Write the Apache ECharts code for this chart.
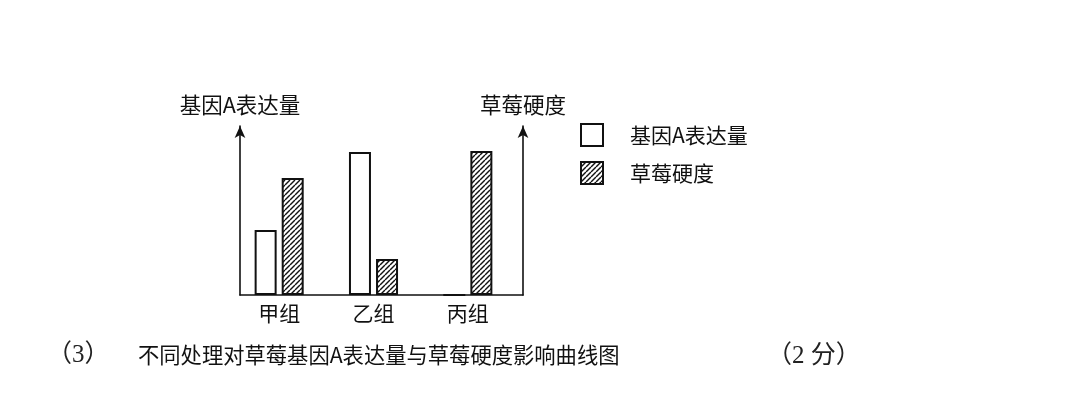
<!DOCTYPE html>
<html>
<head>
<meta charset="utf-8">
<script src="https://cdn.jsdelivr.net/npm/echarts@6/dist/echarts.min.js"></script>
<style>
  html, body { margin: 0; padding: 0; background: #fff; }
  #chart { width: 1080px; height: 414px; }
</style>
</head>
<body>
<div id="chart"></div>
<script>
// data
const groups = ['甲组', '乙组', '丙组'];
const geneA = [65, 143, 0];
const hardness = [117, 36, 144];
const seriesNames = ['基因A表达量', '草莓硬度'];

// diagonal hatch tile for the hardness bars
function makeHatch() {
    const c = document.createElement('canvas');
    c.width = 5;
    c.height = 5;
    const ctx = c.getContext('2d');
    ctx.fillStyle = '#fff';
    ctx.fillRect(0, 0, 5, 5);
    ctx.strokeStyle = '#111';
    ctx.lineWidth = 1.4;
    [-5, 0, 5].forEach(d => {
        ctx.beginPath();
        ctx.moveTo(d, 5);
        ctx.lineTo(d + 5, 0);
        ctx.stroke();
    });
    return c;
}

const FONT = '"Noto Sans CJK SC", "Noto Sans", sans-serif';
const SERIF = '"Liberation Serif", "Noto Sans CJK SC", serif';

const chart = echarts.init(document.getElementById('chart'));
const hiddenAxis = {
    axisLine: { show: false },
    axisTick: { show: false },
    axisLabel: { show: false },
    splitLine: { show: false }
};
const frameY = {
    gridIndex: 0,
    type: 'value',
    min: 0,
    max: 169,
    nameLocation: 'end',
    nameGap: 10,
    nameTextStyle: { color: '#111', fontSize: 21.5, fontFamily: FONT },
    axisLine: {
        show: true,
        lineStyle: { color: '#111', width: 1.6 },
        symbol: ['none', 'arrow'],
        symbolSize: [8, 12]
    },
    axisTick: { show: false },
    axisLabel: { show: false },
    splitLine: { show: false }
};

chart.setOption({
    backgroundColor: '#fff',
    animation: false,
    title: [
        { text: '（3）', left: 42, top: 338, textStyle: { fontFamily: SERIF, fontSize: 25, fontWeight: 'normal', color: '#222' } },
        { text: '不同处理对草莓基因A表达量与草莓硬度影响曲线图', left: 133, top: 339, textStyle: { fontFamily: FONT, fontSize: 21.3, fontWeight: 'normal', color: '#111' } },
        { text: '（2 分）', left: 762, top: 339, textStyle: { fontFamily: SERIF, fontSize: 25, fontWeight: 'normal', color: '#222' } }
    ],
    legend: {
        orient: 'vertical',
        left: 580,
        top: 123,
        padding: 0,
        itemWidth: 22,
        itemHeight: 22,
        itemGap: 14,
        icon: 'rect',
        data: seriesNames,
        textStyle: { fontFamily: FONT, fontSize: 21, color: '#111', padding: [0, 0, 0, 22] }
    },
    grid: [
        { left: 240, top: 126, width: 283, height: 169 },
        { left: 232, top: 126, width: 283, height: 169 }
    ],
    xAxis: [
        {
            gridIndex: 0,
            type: 'category',
            data: groups,
            axisLine: { show: true, lineStyle: { color: '#111', width: 1.6 } },
            axisTick: { show: false },
            axisLabel: { show: false }
        },
        {
            gridIndex: 1,
            type: 'category',
            data: groups,
            axisLine: { show: false },
            axisTick: { show: false },
            axisLabel: { color: '#111', fontSize: 21, fontFamily: FONT, margin: 8 }
        }
    ],
    yAxis: [
        Object.assign({}, frameY, { position: 'left', name: '基因A表达量' }),
        Object.assign({}, frameY, { position: 'right', name: '草莓硬度' }),
        Object.assign({ gridIndex: 1, type: 'value', min: 0, max: 169 }, hiddenAxis)
    ],
    series: [
        {
            name: seriesNames[0],
            type: 'bar',
            xAxisIndex: 1,
            yAxisIndex: 2,
            data: geneA,
            barWidth: 22,
            barGap: '23%',
            itemStyle: { color: '#fff', borderColor: '#111', borderWidth: 2 }
        },
        {
            name: seriesNames[1],
            type: 'bar',
            xAxisIndex: 1,
            yAxisIndex: 2,
            data: hardness,
            barWidth: 22,
            itemStyle: {
                color: { image: makeHatch(), repeat: 'repeat' },
                borderColor: '#111',
                borderWidth: 2
            }
        }
    ]
});
</script>
</body>
</html>
